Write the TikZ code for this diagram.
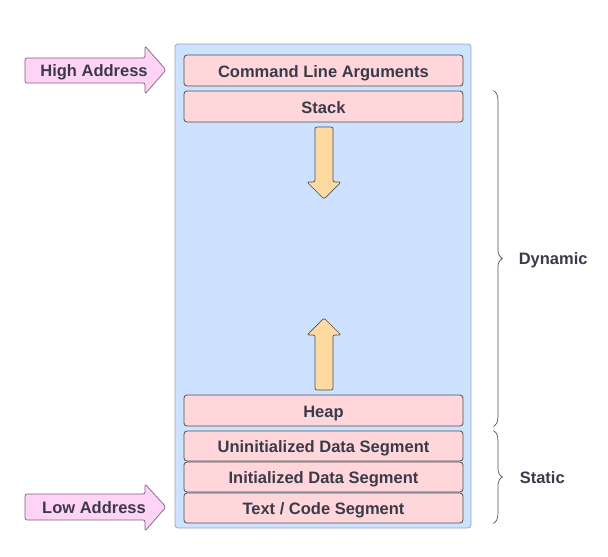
\documentclass[tikz,border=0pt]{standalone}
\usepackage{fontspec}
\setmainfont{Liberation Sans}
\usetikzlibrary{positioning,decorations.pathreplacing}
\definecolor{memblue}{HTML}{CCE2FF}
\definecolor{memedge}{HTML}{9AA6BA}
\definecolor{segpink}{HTML}{FFD7DA}
\definecolor{segedge}{HTML}{4F4F55}
\definecolor{growfill}{HTML}{FFD9A2}
\definecolor{addrfill}{HTML}{FFD3F6}
\definecolor{addredge}{HTML}{80607E}
\definecolor{labeltxt}{HTML}{3A3A4A}
\tikzset{
  segment/.style={draw=segedge, fill=segpink, rounded corners=3pt,
    line width=0.8pt, minimum width=279pt, minimum height=#1,
    inner sep=0pt, text=labeltxt, text height=13.6pt, text depth=0pt,
    font=\fontsize{16.5}{18}\selectfont\bfseries},
  segment/.default=31pt,
  growarrow/.style={draw=segedge, fill=growfill, rounded corners=2pt, line width=0.7pt},
  addrarrow/.style={draw=addredge, fill=addrfill, rounded corners=2pt, line width=0.7pt},
  addrtext/.style={text=labeltxt, inner sep=0pt, text height=12.6pt, text depth=0pt,
    font=\fontsize{16.5}{18}\selectfont\bfseries},
  membrace/.style={draw=segedge, line width=0.7pt, decorate,
    decoration={brace, amplitude=9pt}}
}
\begin{document}
\begin{tikzpicture}[x=1pt,y=-1pt]
    \useasboundingbox (0,0) rectangle (608,557);

    % Memory block
    \node[draw=memedge, fill=memblue, rounded corners=3pt, line width=0.8pt,
        minimum width=296pt, minimum height=484pt] (mem) at (323,286) {};

    % Segments
    \node[segment] (args) at (323.5,70.5) {Command Line Arguments};
    \node[segment] (stack) at (323.5,106.5) {Stack};
    \node[segment] (heap) at (323.5,410.5) {Heap};
    \node[segment=30pt] (uninit) at (323.5,446) {Uninitialized Data Segment};
    \node[segment=30pt] (init) at (323.5,477) {Initialized Data Segment};
    \node[segment=30pt] (code) at (323.5,508) {Text / Code Segment};

    % Stack grows down
    \draw[growarrow] (315,127) -- (333,127) -- (333,182) -- (341,182)
        -- (324,199) -- (307,182) -- (315,182) -- cycle;

    % Heap grows up
    \draw[growarrow] (315,390) -- (333,390) -- (333,335) -- (341,335)
        -- (324,318) -- (307,335) -- (315,335) -- cycle;

    % Addresses
    \draw[addrarrow] (25,58) -- (145,58) -- (145,46) -- (166,70)
        -- (145,94) -- (145,83) -- (25,83) -- cycle;
    \node[addrtext] (high) at (94,70) {High Address};

    \draw[addrarrow] (25,494) -- (145,494) -- (145,484) -- (166,507)
        -- (145,531) -- (145,520) -- (25,520) -- cycle;
    \node[addrtext] (low) at (94,507) {Low Address};

    % Braces
    \draw[membrace] ([xshift=30pt]stack.north east) -- ([xshift=30pt]heap.south east)
        node[midway, anchor=west, xshift=25pt, addrtext] (dyn) {Dynamic};
    \draw[membrace] ([xshift=30pt]uninit.north east) -- ([xshift=30pt]code.south east)
        node[midway, anchor=west, xshift=26pt, addrtext] (stat) {Static};

\end{tikzpicture}
\end{document}
